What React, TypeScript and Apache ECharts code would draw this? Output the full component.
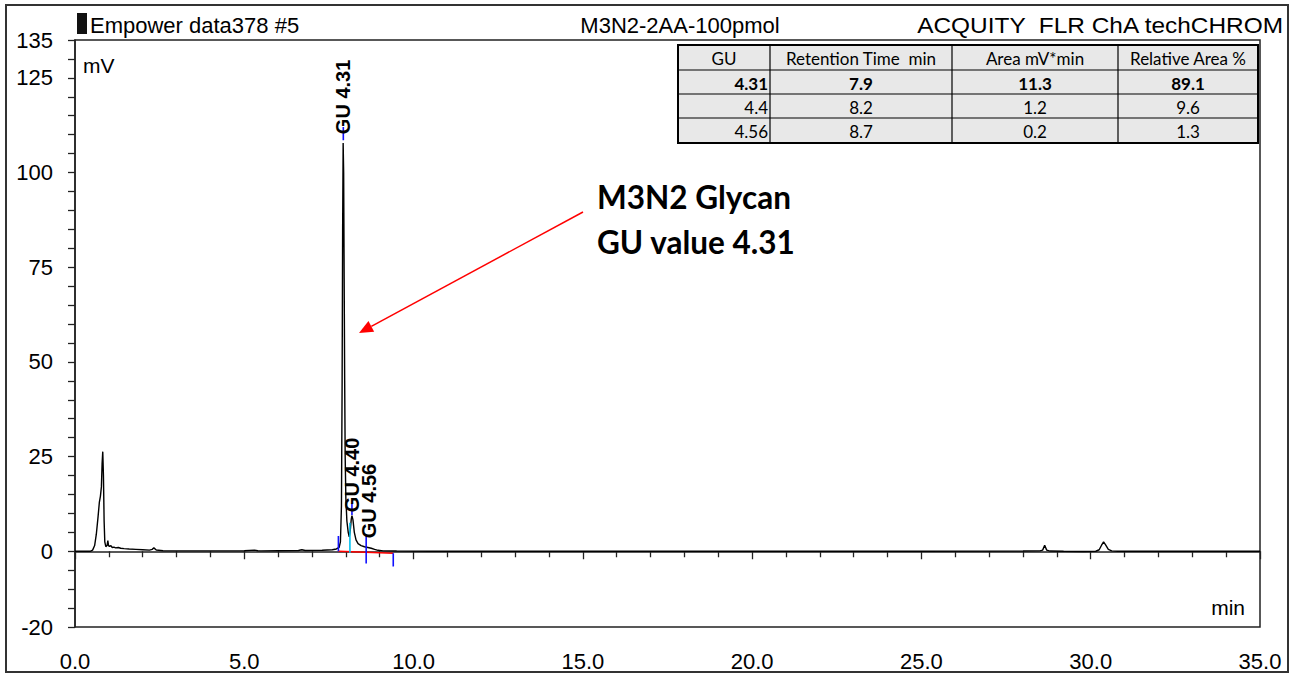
import React, { useEffect, useRef } from 'react';
import * as echarts from 'echarts';

// ---------- data ----------
const chromatogram: [number, number][] = [
  [0, 0], [0.45, 0], [0.52, 0.3], [0.58, 1.5], [0.63, 4.5], [0.68, 9], [0.72, 13], [0.75, 14.5],
  [0.78, 17], [0.8, 23], [0.82, 26.3], [0.84, 20], [0.86, 8], [0.88, 2.5], [0.91, 1.2], [0.95, 1.6],
  [0.97, 2.8], [0.99, 1.5], [1.02, 1.3], [1.06, 1.5], [1.1, 1.0], [1.15, 1.1], [1.2, 0.9], [1.28, 1.0],
  [1.35, 0.8], [1.45, 0.7], [1.6, 0.6], [1.8, 0.5], [2.0, 0.4], [2.2, 0.3], [2.28, 0.5], [2.33, 0.9],
  [2.4, 0.35], [2.6, 0.15], [3.0, 0.1], [4.0, 0.1], [5.0, 0.15], [5.3, 0.3], [5.4, 0.15], [5.5, 0.1],
  [6.0, 0.15], [6.6, 0.2], [6.7, 0.4], [6.8, 0.2], [7.3, 0.25], [7.6, 0.4], [7.72, 0.6], [7.8, 1.0],
  [7.84, 2.5], [7.87, 12], [7.89, 45], [7.905, 85], [7.92, 107.8], [7.935, 100], [7.95, 72], [7.965, 45],
  [7.98, 25], [8.0, 14], [8.03, 8], [8.07, 5], [8.1, 3.8], [8.13, 5.5], [8.16, 8.5], [8.18, 9.4],
  [8.21, 8.3], [8.25, 5], [8.3, 3], [8.36, 2], [8.45, 1.5], [8.55, 1.2], [8.65, 1.0], [8.75, 0.8],
  [8.85, 0.5], [8.95, 0.25], [9.1, 0.1], [9.5, 0.05], [10.5, 0], [15, 0], [20, 0], [25, 0],
  [28.0, 0.05], [28.5, 0.1], [28.58, 0.3], [28.64, 1.6], [28.7, 0.3], [28.8, 0.05], [29.2, 0], [29.8, -0.05],
  [30.15, 0], [30.25, 0.4], [30.32, 1.6], [30.38, 2.5], [30.44, 1.7], [30.52, 0.5], [30.62, 0.1], [30.8, 0],
  [32, 0], [35, 0]
];
const integrationBaseline: [number, number][] = [[7.78, 0], [9.4, -0.5]];
const dropLines: [number, number, number][] = [[7.78, 0, 4], [8.6, -3.2, 4.5], [9.4, -0.5, -4]];
const splitLines: [number, number, number][] = [[8.12, -0.4, 7.5]];
const apexMarks: [number, number, number][] = [[7.925, 108.5, 112], [8.18, 9.6, 12.6]];
const peakTimes = [7.92, 8.2, 8.7];
const peakLabelBase = [110.0, 10.2, 3.3];
const peakNames = ['GU 4.31', 'GU 4.40', 'GU 4.56'];
const yLabelValues = [135, 125, 100, 75, 50, 25, 0, -20];

const tableHeaders = ['GU', 'Retention Time  min', 'Area mV*min', 'Relative Area %'];
const tableGU = ['4.31', '4.4', '4.56'];
const tableRT = ['7.9', '8.2', '8.7'];
const tableArea = ['11.3', '1.2', '0.2'];
const tableRelArea = ['89.1', '9.6', '1.3'];

const headerLeft = 'Empower data378 #5';
const headerMid = 'M3N2-2AA-100pmol';
const headerRight = 'ACQUITY  FLR ChA techCHROM';
const noteLines = ['M3N2 Glycan', 'GU value 4.31'];

// ---------- styling ----------
const SANS = '"Liberation Sans", Arial, sans-serif';
const CAL = 'Lato, "Open Sans", sans-serif';

function buildTable() {
  const cols = [678, 770, 952, 1118, 1258];
  const rows = [45, 70, 94, 118, 143];
  const children: any[] = [];
  children.push({
    type: 'rect',
    shape: { x: cols[0], y: rows[0], width: cols[4] - cols[0], height: rows[4] - rows[0] },
    style: { fill: '#e8e8e8', stroke: null }
  });
  for (let i = 1; i < cols.length - 1; i++) {
    children.push({ type: 'line', shape: { x1: cols[i], y1: rows[0], x2: cols[i], y2: rows[4] }, style: { stroke: '#000', lineWidth: 1.2 } });
  }
  for (let j = 1; j < rows.length - 1; j++) {
    children.push({ type: 'line', shape: { x1: cols[0], y1: rows[j], x2: cols[4], y2: rows[j] }, style: { stroke: '#000', lineWidth: 1.2 } });
  }
  children.push({
    type: 'rect',
    shape: { x: cols[0], y: rows[0], width: cols[4] - cols[0], height: rows[4] - rows[0] },
    style: { fill: null, stroke: '#000', lineWidth: 2 }
  });
  const colData = [tableGU, tableRT, tableArea, tableRelArea];
  tableHeaders.forEach((h, c) => {
    children.push({
      type: 'text',
      style: { text: h, x: (cols[c] + cols[c + 1]) / 2, y: (rows[0] + rows[1]) / 2 + 1, align: 'center', verticalAlign: 'middle', font: `17px ${CAL}`, fill: '#000' }
    });
  });
  for (let r = 0; r < 3; r++) {
    for (let c = 0; c < 4; c++) {
      const first = c === 0;
      children.push({
        type: 'text',
        style: {
          text: colData[c][r],
          x: first ? cols[1] - 2 : (cols[c] + cols[c + 1]) / 2,
          y: (rows[r + 1] + rows[r + 2]) / 2 + 1,
          align: first ? 'right' : 'center',
          verticalAlign: 'middle',
          font: `${r === 0 ? 'bold ' : ''}17px ${CAL}`,
          fill: '#000'
        }
      });
    }
  }
  return { type: 'group', children };
}

function buildArrow() {
  const x1 = 583, y1 = 212, tx = 359, ty = 333;
  const dx = tx - x1, dy = ty - y1;
  const len = Math.sqrt(dx * dx + dy * dy);
  const ux = dx / len, uy = dy / len;
  const hl = 14, hw = 6;
  const bx = tx - ux * hl, by = ty - uy * hl;
  const nx = -uy, ny = ux;
  return [
    { type: 'line', shape: { x1, y1, x2: bx, y2: by }, style: { stroke: '#ff0000', lineWidth: 1.5 } },
    { type: 'polygon', shape: { points: [[tx, ty], [bx + nx * hw, by + ny * hw], [bx - nx * hw, by - ny * hw]] }, style: { fill: '#ff0000' } }
  ];
}

function segSeries(segs: [number, number, number][], color: string) {
  return segs.map(([t, a, b]) => ({
    type: 'line',
    data: [[t, a], [t, b]],
    symbol: 'none',
    silent: true,
    z: 5,
    lineStyle: { color, width: 1.6 }
  }));
}

export default function App() {
  const ref = useRef<HTMLDivElement>(null);
  useEffect(() => {
    const chart = echarts.init(ref.current!, null, { renderer: 'svg' });
    const option: any = {
      animation: false,
      backgroundColor: '#ffffff',
      grid: { left: 75, right: 33, top: 40, bottom: 47, show: true, borderColor: '#222', borderWidth: 1.5, backgroundColor: 'transparent' },
      xAxis: {
        type: 'value', min: 0, max: 35, interval: 5, offset: 9,
        axisLine: { show: true, lineStyle: { color: '#222', width: 1.5 } },
        axisTick: { show: true, length: 8, lineStyle: { color: '#222', width: 1.3 } },
        minorTick: { show: true, splitNumber: 5, length: 6, lineStyle: { color: '#222', width: 1.3 } },
        splitLine: { show: false },
        axisLabel: { formatter: (v: number) => v.toFixed(1), fontSize: 22, color: '#000', fontFamily: SANS, margin: 14 }
      },
      yAxis: {
        type: 'value', min: -20, max: 135, interval: 5, offset: 8,
        axisLine: { show: true, lineStyle: { color: '#222', width: 1.5 } },
        axisTick: { show: true, length: 7, lineStyle: { color: '#222', width: 1.3 } },
        splitLine: { show: false },
        axisLabel: {
          formatter: (v: number) => (yLabelValues.indexOf(v) >= 0 ? String(v) : ''),
          fontSize: 22, color: '#000', fontFamily: SANS, margin: 14
        }
      },
      series: [
        {
          type: 'line', data: chromatogram, symbol: 'none', z: 3,
          lineStyle: { color: '#000', width: 1.4 }
        },
        {
          type: 'line', data: integrationBaseline, symbol: 'none', z: 4,
          lineStyle: { color: '#ff0000', width: 1.5 }
        },
        ...segSeries(dropLines, '#1010ff'),
        ...segSeries(splitLines, '#00c0f0'),
        ...segSeries(apexMarks, '#1010ff'),
        {
          type: 'scatter', symbolSize: 1, z: 6,
          itemStyle: { color: 'transparent' },
          data: peakTimes.map((t, i) => ({ value: [t, peakLabelBase[i]], name: peakNames[i] })),
          label: {
            show: true, formatter: '{b}', rotate: 90, position: [0, 0], align: 'left', verticalAlign: 'middle',
            fontSize: 20, fontWeight: 'bold', color: '#000', fontFamily: SANS, textBorderWidth: 0, opacity: 1
          }
        }
      ],
      graphic: [
        { type: 'rect', shape: { x: 6, y: 5, width: 1282, height: 667 }, style: { fill: null, stroke: '#333', lineWidth: 2 } },
        { type: 'rect', shape: { x: 77, y: 13, width: 10, height: 21 }, style: { fill: '#111' } },
        { type: 'text', style: { text: headerLeft, x: 90, y: 25, verticalAlign: 'middle', font: `22px ${SANS}`, fill: '#000' } },
        { type: 'text', style: { text: headerMid, x: 680, y: 25, align: 'center', verticalAlign: 'middle', font: `22px ${SANS}`, fill: '#000' } },
        { type: 'text', x: 1283, y: 25, scaleX: 1.11, style: { text: headerRight, x: 0, y: 0, align: 'right', verticalAlign: 'middle', font: `22px ${SANS}`, fill: '#000' } },
        { type: 'text', style: { text: 'mV', x: 83, y: 65, verticalAlign: 'middle', font: `21px ${SANS}`, fill: '#000' } },
        { type: 'text', style: { text: 'min', x: 1245, y: 607, align: 'right', verticalAlign: 'middle', font: `21px ${SANS}`, fill: '#000' } },
        buildTable(),
        { type: 'text', style: { text: noteLines[0], x: 597, y: 197, verticalAlign: 'middle', font: `bold 31.5px ${CAL}`, fill: '#000' } },
        { type: 'text', style: { text: noteLines[1], x: 597, y: 242, verticalAlign: 'middle', font: `bold 31.5px ${CAL}`, fill: '#000' } },
        ...buildArrow()
      ]
    };
    chart.setOption(option);
    return () => chart.dispose();
  }, []);
  return <div ref={ref} style={{ position: 'absolute', left: 0, top: 0, width: 1293, height: 674, background: '#fff' }} />;
}
